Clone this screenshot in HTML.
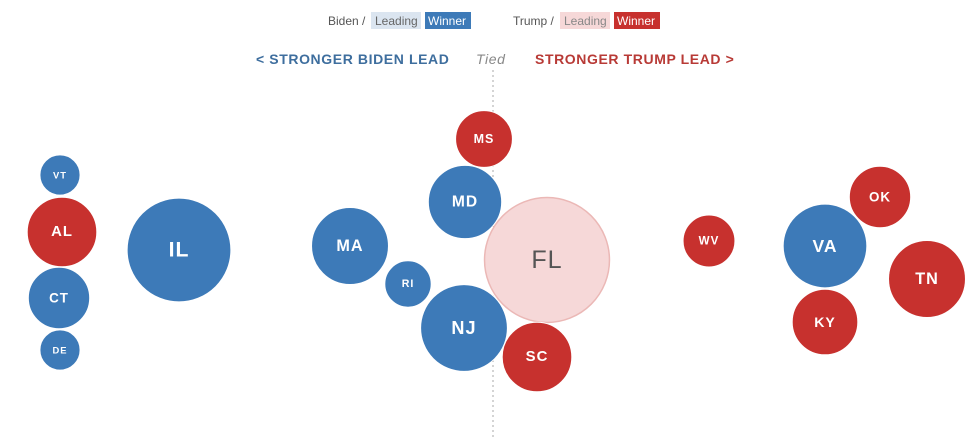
<!DOCTYPE html>
<html><head><meta charset="utf-8"><style>
html,body{margin:0;padding:0;background:#fff;width:977px;height:445px;overflow:hidden;font-family:"Liberation Sans",sans-serif;}
svg{display:block}
</style></head><body>
<svg id="chart" width="977" height="445">
  <g font-size="12">
    <text x="328" y="25" fill="#555">Biden /</text>
    <rect x="371" y="12" width="50" height="17" fill="#dbe5f0"/>
    <text x="375" y="25" fill="#666">Leading</text>
    <rect x="425" y="12" width="46" height="17" fill="#3d7ab8"/>
    <text x="428" y="25" fill="#fff">Winner</text>
    <text x="513" y="25" fill="#555">Trump /</text>
    <rect x="560" y="12" width="50" height="17" fill="#f6d8d8"/>
    <text x="564" y="25" fill="#888">Leading</text>
    <rect x="614" y="12" width="46" height="17" fill="#c7312e"/>
    <text x="617" y="25" fill="#fff">Winner</text>
  </g>
  <g font-size="14" font-weight="bold" letter-spacing="0.6">
    <text x="256" y="64" fill="#3e6e9e">&lt; STRONGER BIDEN LEAD</text>
    <text x="476" y="64" fill="#888" font-style="italic" font-weight="normal">Tied</text>
    <text x="535" y="64" fill="#b83a36">STRONGER TRUMP LEAD &gt;</text>
  </g>
  <line x1="493" y1="70" x2="493" y2="440" stroke="#aaa" stroke-dasharray="2,3"/>
  <g id="bubbles"></g>
</svg>
<script>
const states = ["VT","AL","CT","DE","IL","MA","RI","MD","MS","NJ","FL","SC","WV","VA","OK","TN","KY"];
const margins = [-43.3,-43.1,-43.4,-43.3,-31.4,-14.3,-8.5,-2.8,-0.9,-2.9,5.4,4.4,21.6,33.2,38.7,43.4,33.2];
const layoutY = [175,232,298,350,250,246,284,202,139,328,260,357,241,246,197,279,322];
const electoralVotes = [3,9,7,3,20,11,4,10,6,14,29,9,5,13,7,11,8];
const parties = ["D","R","D","D","D","D","D","D","R","D","R","R","R","D","R","R","R"];
const statuses = ["W","W","W","W","W","W","W","W","W","W","L","W","W","W","W","W","W"];

const xScale = m => 493 + m * 10;
const rScale = ev => 11.6 * Math.sqrt(ev);
const fills = {DW:"#3d7ab8", DL:"#dbe5f0", RW:"#c7312e", RL:"#f6d8d8"};
const ns = "http://www.w3.org/2000/svg";
const g = document.getElementById("bubbles");
states.forEach((s,i)=>{
  const cx = xScale(margins[i]), cy = layoutY[i], r = rScale(electoralVotes[i]);
  const key = parties[i]+statuses[i];
  const c = document.createElementNS(ns,"circle");
  c.setAttribute("cx",cx); c.setAttribute("cy",cy); c.setAttribute("r",r);
  c.setAttribute("fill",fills[key]);
  c.setAttribute("stroke", key==="RL" ? "#ebb8b6" : "#fff");
  c.setAttribute("stroke-width", key==="RL" ? 1.5 : 1);
  
  
  g.appendChild(c);
  const t = document.createElementNS(ns,"text");
  t.setAttribute("x",cx); t.setAttribute("y",cy);
  t.setAttribute("text-anchor","middle"); t.setAttribute("dominant-baseline","central");
  t.setAttribute("font-size", (r*0.37+2).toFixed(1));
  t.setAttribute("font-weight", statuses[i]==="L" ? "normal" : "bold");
  t.setAttribute("letter-spacing", "1");
  t.setAttribute("fill", statuses[i]==="L" ? "#555" : "#fff");
  t.textContent = s;
  
  
  g.appendChild(t);
});
</script>
</body></html>
